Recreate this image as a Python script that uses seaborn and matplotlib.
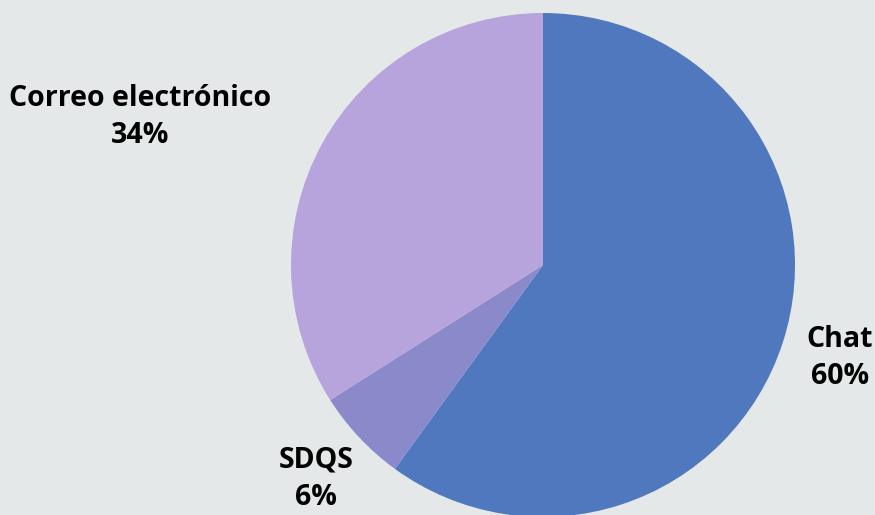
import numpy as np
import pandas as pd
import matplotlib.pyplot as plt
import seaborn as sns

# data
categorias = ['Chat', 'SDQS', 'Correo electrónico']
porcentajes = [60, 6, 34]
colores = ['#5078be', '#8a8acb', '#b7a4dc']

sns.set_style('white')
plt.rcParams['font.family'] = ['Open Sans', 'DejaVu Sans']

df = pd.DataFrame({'canal': categorias, 'pct': porcentajes})

fig = plt.figure(figsize=(8.75, 5.15), dpi=100)
fig.patch.set_facecolor('#e4e8e8')
ax = fig.add_axes([0, 0, 1, 1])
ax.set_facecolor('#e4e8e8')

ax.pie(df['pct'], colors=colores, startangle=90, counterclock=False,
       center=(543, 250), radius=252, frame=True,
       wedgeprops=dict(linewidth=0))
ax.set_xlim(0, 875)
ax.set_ylim(0, 515)
ax.set_aspect('equal')
ax.axis('off')

# label positions (pixel coords)
pos = {'Chat': (840, 157), 'SDQS': (316, 36), 'Correo electrónico': (140, 398)}
for canal, pct in zip(df['canal'], df['pct']):
    x, y = pos[canal]
    ax.text(x, y, f'{canal}\n{pct}%', ha='center', va='center',
            fontsize=20.5, fontweight='bold', color='black', linespacing=1.4)

fig.savefig('out.png', dpi=100, facecolor=fig.get_facecolor())
